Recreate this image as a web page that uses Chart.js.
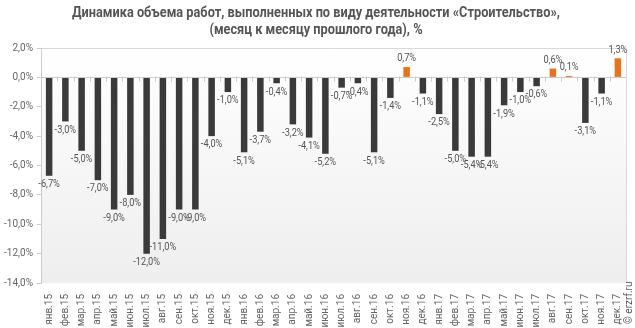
<!DOCTYPE html>
<html>
<head>
<meta charset="utf-8">
<script src="https://cdn.jsdelivr.net/npm/chart.js"></script>
<style>
  html, body { margin: 0; padding: 0; background: #fff; }
  #wrap { width: 635px; height: 328px; position: relative; }
</style>
</head>
<body>
<div id="wrap"><canvas id="buildChart"></canvas></div>
<script>
const months = ["янв.15","фев.15","мар.15","апр.15","май.15","июн.15","июл.15","авг.15","сен.15","окт.15","ноя.15","дек.15",
  "янв.16","фев.16","мар.16","апр.16","май.16","июн.16","июл.16","авг.16","сен.16","окт.16","ноя.16","дек.16",
  "янв.17","фев.17","мар.17","апр.17","май.17","июн.17","июл.17","авг.17","сен.17","окт.17","ноя.17","дек.17"];
const values2015 = [-6.7, -3.0, -5.0, -7.0, -9.0, -8.0, -12.0, -11.0, -9.0, -9.0, -4.0, -1.0];
const values2016 = [-5.1, -3.7, -0.4, -3.2, -4.1, -5.2, -0.7, -0.4, -5.1, -1.4, 0.7, -1.1];
const values2017 = [-2.5, -5.0, -5.4, -5.4, -1.9, -1.0, -0.6, 0.6, 0.1, -3.1, -1.1, 1.3];
const values = values2015.concat(values2016, values2017);
const titleLines = ["Динамика объема работ, выполненных по виду деятельности «Строительство»,",
  "(месяц к месяцу прошлого года), %"];

const fontFam = "Roboto, 'Liberation Sans', sans-serif";
const fmt = v => v.toFixed(1).replace(".", ",") + "%";

// text squeezed horizontally to look like a condensed face
function narrowText(ctx, text, x, y, squeeze) {
  ctx.save();
  ctx.translate(x, y);
  ctx.scale(squeeze, 1);
  ctx.fillText(text, 0, 0);
  ctx.restore();
}

const decor = {
  id: "decor",
  beforeDraw(chart) {
    const { ctx, chartArea: a } = chart;
    const g = ctx.createLinearGradient(0, a.top, 0, a.bottom);
    g.addColorStop(0, "#ffffff");
    g.addColorStop(1, "#eeeeee");
    ctx.save();
    ctx.fillStyle = g;
    ctx.fillRect(a.left, a.top, a.right - a.left, a.bottom - a.top);
    ctx.strokeStyle = "#d9d9d9";
    ctx.lineWidth = 1;
    ctx.beginPath();
    ctx.moveTo(a.left, a.top + 0.5);
    ctx.lineTo(a.right + 0.5, a.top + 0.5);
    ctx.lineTo(a.right + 0.5, a.bottom);
    ctx.stroke();
    ctx.restore();
  },
  afterDatasetsDraw(chart) {
    const { ctx, chartArea: a, scales } = chart;
    const y0 = Math.round(scales.y.getPixelForValue(0)) + 0.5;
    ctx.save();
    ctx.strokeStyle = "#cccccc";
    ctx.lineWidth = 1;
    ctx.beginPath();
    ctx.moveTo(a.left, y0);
    ctx.lineTo(a.right, y0);
    const step = (a.right - a.left) / months.length;
    for (let i = 1; i < months.length; i++) {
      const x = Math.round(a.left + i * step) + 0.5;
      ctx.moveTo(x, y0 - 1);
      ctx.lineTo(x, y0 + 4);
    }
    ctx.stroke();

    ctx.font = "11px " + fontFam;
    ctx.fillStyle = "#555";
    ctx.textAlign = "center";
    const meta = chart.getDatasetMeta(0);
    meta.data.forEach((bar, i) => {
      const v = values[i];
      if (v < 0) {
        ctx.textBaseline = "top";
        narrowText(ctx, fmt(v), bar.x, bar.y + 3, 0.84);
      } else {
        ctx.textBaseline = "bottom";
        narrowText(ctx, fmt(v), bar.x, bar.y - 3, 0.84);
      }
    });

    ctx.font = "bold 14px " + fontFam;
    ctx.fillStyle = "#555";
    ctx.textBaseline = "middle";
    const sq = Math.min(1, 488 / ctx.measureText(titleLines[0]).width);
    narrowText(ctx, titleLines[0], 316, 13, sq);
    narrowText(ctx, titleLines[1], 316, 30, sq);

    ctx.translate(629, 324);
    ctx.rotate(-Math.PI / 2);
    ctx.font = "10px " + fontFam;
    ctx.fillStyle = "#555";
    ctx.textAlign = "left";
    ctx.fillText("© erzrf.ru", 0, 0);
    ctx.restore();
  }
};

new Chart(document.getElementById("buildChart"), {
  type: "bar",
  data: {
    labels: months,
    datasets: [{
      data: values,
      backgroundColor: values.map(v => v > 0 ? "#e8731a" : "#3a3a3a"),
      barPercentage: 0.4,
      categoryPercentage: 1.0
    }]
  },
  options: {
    responsive: true,
    maintainAspectRatio: false,
    animation: false,
    layout: { padding: { top: 48, right: 9, left: 3, bottom: 0 } },
    plugins: { legend: { display: false }, tooltip: { enabled: false }, title: { display: false } },
    scales: {
      x: {
        grid: { display: false },
        border: { display: false },
        ticks: {
          autoSkip: false, maxRotation: 90, minRotation: 90,
          color: "#666", padding: 3,
          font: { family: fontFam, size: 10 }
        },
        afterFit: s => { s.height = 45; }
      },
      y: {
        min: -14, max: 2,
        grid: { drawOnChartArea: false, drawTicks: true, tickLength: 4, color: "#cccccc" },
        border: { display: true, color: "#cccccc" },
        ticks: {
          stepSize: 2, padding: 4, color: "#666",
          font: { family: fontFam, size: 10 },
          callback: v => fmt(v)
        },
        afterFit: s => { s.width = 38; }
      }
    }
  },
  plugins: [decor]
});
</script>
</body>
</html>
